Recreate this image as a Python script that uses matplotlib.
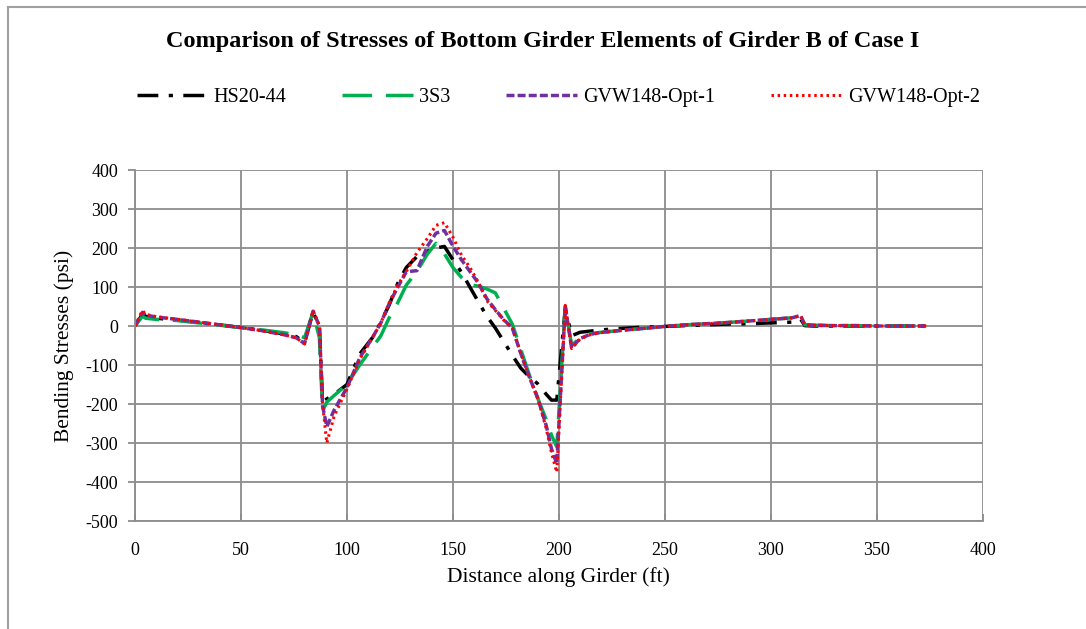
import matplotlib
matplotlib.use('Agg')
import matplotlib.pyplot as plt
from matplotlib.lines import Line2D

# distance along girder (ft)
dist = [0, 3.5, 5, 10, 20, 30, 40, 50, 60, 70, 76, 80, 84, 87, 88.5, 90.5, 94,
        100, 106, 112, 116, 120, 124, 128, 133, 138, 142, 146, 150, 154, 158,
        162, 166, 170, 174, 178, 182, 186, 190, 194, 196.5, 199, 203, 206, 210,
        215, 220, 230, 240, 250, 260, 270, 280, 290, 300, 310, 314, 316, 320,
        330, 340, 350, 360, 370, 374]

hs20 = [0, 30, 25, 20, 15, 9, 3, -4, -11, -20, -27, -42, 36, -2, -195, -187, -175,
        -150, -72, -30, 10, 55, 110, 150, 178, 192, 200, 204, 170, 138, 100,
        62, 25, -5, -40, -75, -108, -130, -148, -175, -190, -190, 45, -25, -16,
        -13, -10, -6, -3, -1, 1, 3, 5, 6, 8, 10, 18, 1, 0,
        0, 0, 0, 0, 0, 0]

s3s3 = [0, 25, 20, 17, 14, 8, 2, -4, -10, -17, -22, -30, 35, -30, -218, -195, -178,
        -150, -100, -55, -25, 22, 60, 105, 140, 185, 212, 185, 150, 125, 106,
        102, 95, 85, 45, 5, -60, -125, -185, -240, -280, -310, 50, -50, -30,
        -20, -16, -11, -6, -1, 3, 6, 9, 13, 17, 21, 26, 3, 2,
        1, 1, 0, 0, 0, 0]

opt1 = [0, 35, 28, 23, 17, 10, 3, -4, -12, -22, -30, -45, 38, 0, -205, -258, -215,
        -158, -82, -30, 8, 58, 100, 139, 142, 205, 238, 245, 205, 170, 140,
        110, 70, 42, 16, -5, -70, -130, -185, -255, -315, -353, 50, -56, -32,
        -21, -16, -11, -6, -1, 3, 6, 9, 13, 17, 21, 27, 3, 2,
        1, 1, 0, 0, 0, 0]

opt2 = [0, 40, 30, 24, 17, 10, 3, -4, -12, -22, -30, -46, 40, 0, -200, -300, -230,
        -162, -85, -30, 8, 60, 105, 140, 188, 225, 258, 265, 228, 182, 150,
        112, 65, 40, 15, -5, -70, -130, -185, -262, -325, -375, 53, -58, -33,
        -22, -17, -11, -6, -1, 3, 6, 9, 13, 17, 21, 27, 3, 2,
        1, 1, 0, 0, 0, 0]

names = ["HS20-44", "3S3", "GVW148-Opt-1", "GVW148-Opt-2"]

plt.rcParams['font.family'] = ['Liberation Serif', 'DejaVu Serif']
plt.rcParams['axes.unicode_minus'] = False

fig = plt.figure(figsize=(10.86, 6.29), dpi=100)
ax = fig.add_axes([0.1243, 0.1717, 0.7807, 0.558])

ax.plot(dist, hs20, color='black', lw=2.5, linestyle=(0, (6, 3, 1.2, 3)), label=names[0])
ax.plot(dist, s3s3, color='#00B050', lw=2.5, linestyle=(0, (8.5, 4)), label=names[1])
ax.plot(dist, opt1, color='#7030A0', lw=2.5, linestyle=(0, (2.3, 0.9)), label=names[2])
ax.plot(dist, opt2, color='#FF0000', lw=2.2, linestyle=(0, (0.8, 1.2)), label=names[3])

ax.set_xlim(0, 400)
ax.set_ylim(-500, 400)
ax.set_xticks(range(0, 401, 50))
ax.set_yticks(range(-500, 401, 100))
ax.grid(True, color='#8c8c8c', lw=1.3)
ax.set_axisbelow(True)
for s in ['top', 'right']:
    ax.spines[s].set_visible(False)
for s in ['left', 'bottom']:
    ax.spines[s].set_color('#8c8c8c')
    ax.spines[s].set_linewidth(1.3)
ax.tick_params(axis='both', labelsize=13, color='#8c8c8c', length=5, width=1.3)
ax.tick_params(axis='x', direction='in', pad=15)
ax.tick_params(axis='y', direction='out', pad=7)

ax.set_xlabel("Distance along Girder (ft)", fontsize=15.5, labelpad=6)
ax.set_ylabel("Bending Stresses (psi)", fontsize=15.5, labelpad=8)

fig.suptitle("Comparison of Stresses of Bottom Girder Elements of Girder B of Case I",
             fontsize=17.5, fontweight='bold', y=0.95)

fig.legend(loc='center', bbox_to_anchor=(0.514, 0.845), ncol=4, frameon=False,
           fontsize=14.5, handlelength=3.5, columnspacing=2.8, handletextpad=0.3)

# outer chart frame (top and left edges visible in the reference)
fig.add_artist(Line2D([0.0074, 1.0], [0.989, 0.989], transform=fig.transFigure,
                      color='#a0a0a0', lw=1.5))
fig.add_artist(Line2D([0.0074, 0.0074], [0.0, 0.989], transform=fig.transFigure,
                      color='#a0a0a0', lw=1.5))

fig.savefig('out.png', dpi=100)
